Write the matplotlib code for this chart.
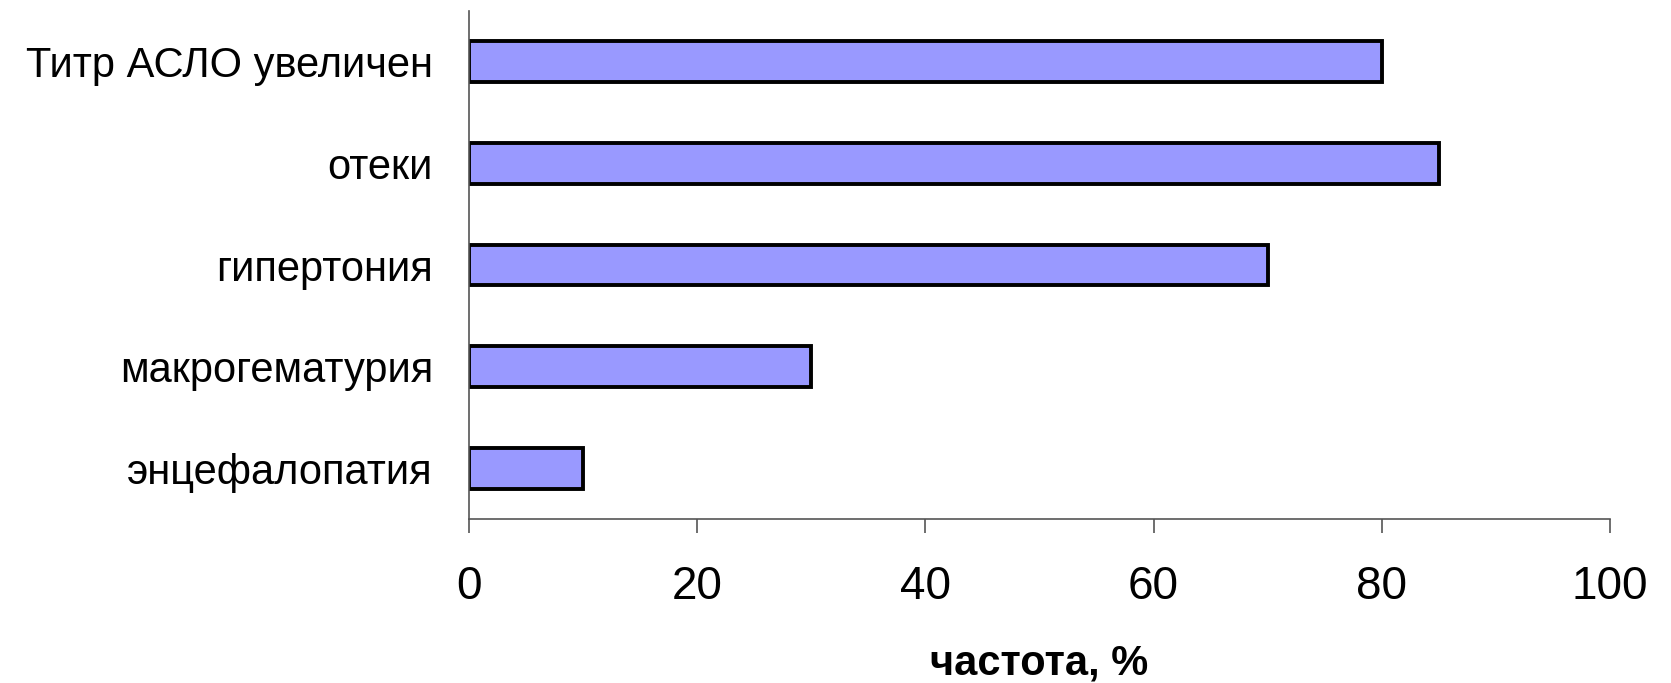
import matplotlib.pyplot as plt
import numpy as np

# Chart data
categories = ['Титр АСЛО увеличен', 'отеки', 'гипертония', 'макрогематурия', 'энцефалопатия']
values = [80, 85, 70, 30, 10]
x_ticks = [0, 20, 40, 60, 80, 100]

plt.rcParams['font.family'] = ['Liberation Sans', 'DejaVu Sans']

fig = plt.figure(figsize=(16.71, 6.83), dpi=100)
ax = fig.add_axes([0.2807, 0.2401, 0.6828, 0.7438])

y_pos = np.arange(len(categories))
ax.barh(y_pos, values, height=0.4, color='#9999FF', edgecolor='black', linewidth=2.8)

ax.set_xlim(0, 100)
ax.set_ylim(len(categories) - 0.5, -0.5)
ax.set_yticks(y_pos)
ax.set_yticklabels(categories, fontsize=30)
ax.set_xticks(x_ticks)
ax.set_xticklabels([str(t) for t in x_ticks], fontsize=33)

ax.tick_params(axis='y', length=0, pad=26)
ax.tick_params(axis='x', direction='out', length=10, width=1.2, color='#555555', pad=23)

for side in ['top', 'right']:
    ax.spines[side].set_visible(False)
for side in ['left', 'bottom']:
    ax.spines[side].set_color('#555555')
    ax.spines[side].set_linewidth(1.2)

ax.set_xlabel('частота, %', fontsize=30, fontweight='bold', labelpad=25)

fig.savefig('out.png', dpi=100)
